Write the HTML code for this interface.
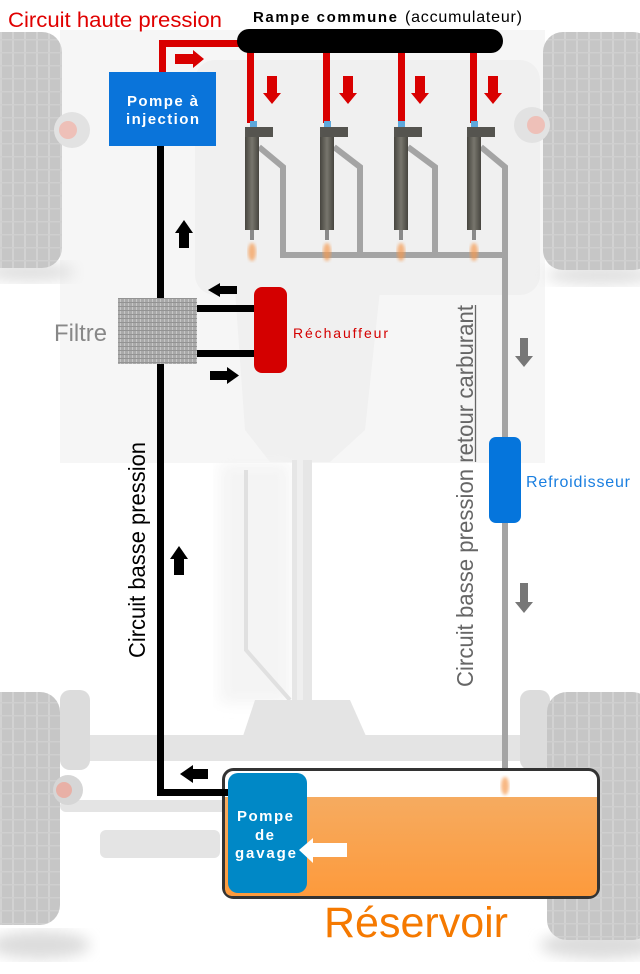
<!DOCTYPE html>
<html><head><meta charset="utf-8">
<style>
html,body{margin:0;padding:0;background:#fff;}
svg{display:block;}
text{font-family:"Liberation Sans",Arial,sans-serif;}
</style></head><body>
<svg width="640" height="974" viewBox="0 0 640 974" xmlns="http://www.w3.org/2000/svg">
<defs>
 <pattern id="tread" width="12" height="13" patternUnits="userSpaceOnUse">
   <rect width="12" height="13" fill="#c6c6c6"/>
   <rect x="0" y="0" width="2" height="13" fill="#d2d2d2"/>
   <rect x="0" y="0" width="12" height="1.5" fill="#cfcfcf"/>
 </pattern>
 <pattern id="mesh" width="4" height="4" patternUnits="userSpaceOnUse">
   <rect width="4" height="4" fill="#a9a9a9"/>
   <rect x="0" y="0" width="1" height="4" fill="#c6c6c6"/>
   <rect x="0" y="2" width="4" height="1" fill="#939393"/>
 </pattern>
 <linearGradient id="oil" x1="0" y1="0" x2="0" y2="1">
   <stop offset="0" stop-color="#f6ab60"/><stop offset="1" stop-color="#fd9a3c"/>
 </linearGradient>
 <linearGradient id="inj" x1="0" x2="1">
   <stop offset="0" stop-color="#46453f"/><stop offset="0.5" stop-color="#78766d"/><stop offset="1" stop-color="#46453f"/>
 </linearGradient>
 <filter id="blur"><feGaussianBlur stdDeviation="7"/></filter>
 <filter id="blur2"><feGaussianBlur stdDeviation="1.5"/></filter>
</defs>

<!-- background chassis (faint) -->
<rect x="60" y="30" width="485" height="433" fill="#f6f6f6"/>
<g fill="#f0f0f0">
  <rect x="195" y="60" width="345" height="235" rx="20"/>
  <path d="M235 290 L380 290 L365 430 L330 462 L270 462 L245 430 Z"/>
</g>
<rect x="220" y="463" width="70" height="240" fill="#f4f4f4" filter="url(#blur)"/>
<rect x="292" y="460" width="20" height="250" fill="#e6e6e6"/>
<rect x="297" y="460" width="6" height="250" fill="#efefef"/>
<path d="M246 470 L246 650 L290 700" stroke="#e0e0e0" stroke-width="4" fill="none"/>
<g fill="#e4e4e4">
  <path d="M255 700 L350 700 L370 745 L240 745 Z"/>
  <rect x="55" y="735" width="500" height="26" rx="8"/>
  <rect x="60" y="800" width="170" height="12" rx="6"/>
  <rect x="100" y="830" width="120" height="28" rx="6"/>
</g>
<g fill="#dcdcdc">
  <rect x="60" y="690" width="30" height="80" rx="10"/>
  <rect x="520" y="690" width="30" height="80" rx="10"/>
</g>
<!-- tire shadows -->
<ellipse cx="40" cy="945" rx="50" ry="14" fill="#dcdcdc" filter="url(#blur)"/>
<ellipse cx="600" cy="945" rx="60" ry="14" fill="#dcdcdc" filter="url(#blur)"/>
<ellipse cx="600" cy="275" rx="55" ry="10" fill="#e0e0e0" filter="url(#blur)"/>
<ellipse cx="30" cy="272" rx="45" ry="10" fill="#e0e0e0" filter="url(#blur)"/>
<!-- tires -->
<rect x="-20" y="32" width="82" height="236" rx="20" fill="url(#tread)"/>
<rect x="543" y="32" width="110" height="238" rx="20" fill="url(#tread)"/>
<rect x="-20" y="692" width="80" height="233" rx="20" fill="url(#tread)"/>
<rect x="547" y="692" width="105" height="248" rx="20" fill="url(#tread)"/>
<!-- wheel hub hints -->
<circle cx="72" cy="130" r="18" fill="#e2e2e2"/>
<circle cx="68" cy="130" r="9" fill="#eec0b8"/>
<circle cx="532" cy="125" r="18" fill="#e2e2e2"/>
<circle cx="536" cy="125" r="9" fill="#eec0b8"/>
<circle cx="68" cy="790" r="15" fill="#d6d6d6"/>
<circle cx="64" cy="790" r="8" fill="#e8b0a6"/>
<circle cx="540" cy="805" r="14" fill="#dadada"/>

<!-- gray return pipes -->
<g fill="none" stroke="#a4a4a4" stroke-width="6" stroke-linejoin="miter">
  <polyline points="259,147 283,167 283,255"/>
  <polyline points="334,147 360,167 360,255"/>
  <polyline points="408,147 435,167 435,255"/>
  <polyline points="481,147 505,167 505,775"/>
  <line x1="280" y1="255" x2="508" y2="255"/>
</g>

<!-- red high pressure -->
<g fill="#d90000">
  <rect x="159" y="40" width="82" height="7"/>
  <rect x="159" y="40" width="7" height="33"/>
  <rect x="247" y="50" width="7" height="73"/>
  <rect x="323" y="50" width="7" height="73"/>
  <rect x="398" y="50" width="7" height="73"/>
  <rect x="470" y="50" width="7" height="73"/>
  <rect x="175" y="54" width="18" height="10"/>
  <polygon points="193,50 204,59 193,68"/>
  <rect x="267" y="76" width="10" height="17"/><polygon points="263,93 281,93 272,104"/>
  <rect x="343" y="76" width="10" height="17"/><polygon points="339,93 357,93 348,104"/>
  <rect x="415" y="76" width="10" height="17"/><polygon points="411,93 429,93 420,104"/>
  <rect x="488" y="76" width="10" height="17"/><polygon points="484,93 502,93 493,104"/>
</g>

<!-- rail -->
<rect x="237" y="29" width="266" height="24" rx="12" fill="#000"/>

<!-- injectors -->
<g>
  <g>
    <rect x="250" y="121" width="7" height="6" fill="#5ea8dc"/>
    <rect x="245" y="127" width="14" height="103" fill="url(#inj)"/>
    <rect x="245" y="127" width="28" height="10" fill="#55544f"/>
    <rect x="250" y="230" width="4" height="10" fill="#8a8a8a"/>
    <ellipse cx="252" cy="252" rx="4" ry="9" fill="#f59a50" opacity="0.7" filter="url(#blur2)"/>
  </g>
  <g>
    <rect x="324" y="121" width="7" height="6" fill="#5ea8dc"/>
    <rect x="320" y="127" width="14" height="103" fill="url(#inj)"/>
    <rect x="320" y="127" width="28" height="10" fill="#55544f"/>
    <rect x="325" y="230" width="4" height="10" fill="#8a8a8a"/>
    <ellipse cx="327" cy="252" rx="4" ry="9" fill="#f59a50" opacity="0.7" filter="url(#blur2)"/>
  </g>
  <g>
    <rect x="398" y="121" width="7" height="6" fill="#5ea8dc"/>
    <rect x="394" y="127" width="14" height="103" fill="url(#inj)"/>
    <rect x="394" y="127" width="28" height="10" fill="#55544f"/>
    <rect x="399" y="230" width="4" height="10" fill="#8a8a8a"/>
    <ellipse cx="401" cy="252" rx="4" ry="9" fill="#f59a50" opacity="0.7" filter="url(#blur2)"/>
  </g>
  <g>
    <rect x="471" y="121" width="7" height="6" fill="#5ea8dc"/>
    <rect x="467" y="127" width="14" height="103" fill="url(#inj)"/>
    <rect x="467" y="127" width="28" height="10" fill="#55544f"/>
    <rect x="472" y="230" width="4" height="10" fill="#8a8a8a"/>
    <ellipse cx="474" cy="252" rx="4" ry="9" fill="#f59a50" opacity="0.7" filter="url(#blur2)"/>
  </g>
</g>

<!-- black low pressure line -->
<g fill="#000">
  <rect x="157" y="140" width="7" height="656"/>
  <rect x="157" y="789" width="72" height="7"/>
  <rect x="197" y="305" width="58" height="7"/>
  <rect x="197" y="350" width="58" height="7"/>
  <polygon points="175,233 193,233 184,220"/><rect x="179" y="233" width="10" height="15"/>
  <polygon points="170,559 188,559 179,546"/><rect x="174" y="559" width="10" height="16"/>
  <polygon points="180,774 193,765 193,783"/><rect x="193" y="769" width="15" height="10"/>
  <polygon points="208,290 220,283 220,297"/><rect x="220" y="286" width="17" height="8"/>
  <rect x="210" y="371" width="17" height="9"/><polygon points="227,367 239,375.5 227,384"/>
</g>

<!-- pump -->
<rect x="109" y="72" width="107" height="74" fill="#0a74da"/>
<text x="127" y="106" font-size="15" font-weight="bold" fill="#fff" textLength="71" lengthAdjust="spacing">Pompe à</text>
<text x="126" y="124" font-size="15" font-weight="bold" fill="#fff" textLength="73" lengthAdjust="spacing">injection</text>

<!-- filter -->
<rect x="118" y="298" width="79" height="66" fill="url(#mesh)"/>
<text x="54" y="341" font-size="24" fill="#888" textLength="53" lengthAdjust="spacingAndGlyphs">Filtre</text>

<!-- heater -->
<rect x="254" y="287" width="33" height="86" rx="8" fill="#d40000"/>
<text x="293" y="338" font-size="14" fill="#d40000" textLength="95" lengthAdjust="spacing">Réchauffeur</text>

<!-- cooler -->
<rect x="489" y="437" width="32" height="86" rx="7" fill="#0575dc"/>
<text x="526" y="487" font-size="16" fill="#1a7fe0" textLength="104" lengthAdjust="spacing">Refroidisseur</text>
<g fill="#777">
  <rect x="520" y="338" width="8" height="18"/><polygon points="515,356 533,356 524,367"/>
  <rect x="520" y="583" width="8" height="19"/><polygon points="515,602 533,602 524,613"/>
</g>

<!-- tank -->
<rect x="223.5" y="769.5" width="375" height="128" rx="10" fill="#fff" stroke="#333" stroke-width="3"/>
<path d="M225 797 L597 797 L597 888 Q597 896 589 896 L233 896 Q225 896 225 888 Z" fill="url(#oil)"/>
<rect x="157" y="789" width="72" height="7" fill="#000"/>
<rect x="228" y="773" width="79" height="120" rx="10" fill="#0088c6"/>
<text x="237" y="821" font-size="15" font-weight="bold" fill="#fff" textLength="56" lengthAdjust="spacing">Pompe</text>
<text x="255" y="840" font-size="15" font-weight="bold" fill="#fff" textLength="19" lengthAdjust="spacing">de</text>
<text x="235" y="858" font-size="15" font-weight="bold" fill="#fff" textLength="61" lengthAdjust="spacing">gavage</text>
<g fill="#fff">
  <polygon points="299,850 313,838 313,863"/><rect x="313" y="843" width="34" height="14"/>
</g>
<ellipse cx="505" cy="786" rx="4" ry="9" fill="#f59a50" opacity="0.7" filter="url(#blur2)"/>
<text x="324" y="937" font-size="43" fill="#f57900" textLength="184" lengthAdjust="spacingAndGlyphs">Réservoir</text>

<!-- titles -->
<text x="8" y="27" font-size="21" fill="#e00000" textLength="214" lengthAdjust="spacingAndGlyphs">Circuit haute pression</text>
<text x="253" y="22" font-size="15" font-weight="bold" fill="#000" textLength="144" lengthAdjust="spacing">Rampe commune</text>
<text x="405" y="22" font-size="16" fill="#000" textLength="117" lengthAdjust="spacing">(accumulateur)</text>

<!-- vertical labels -->
<text transform="translate(145,658) rotate(-90)" font-size="23" fill="#000" textLength="216" lengthAdjust="spacingAndGlyphs">Circuit basse pression</text>
<text transform="translate(473,687) rotate(-90)" font-size="23" fill="#666" textLength="382" lengthAdjust="spacingAndGlyphs">Circuit basse pression retour carburant</text>
<line x1="475.5" y1="305" x2="475.5" y2="462" stroke="#666" stroke-width="1.3"/>
</svg>
</body></html>
